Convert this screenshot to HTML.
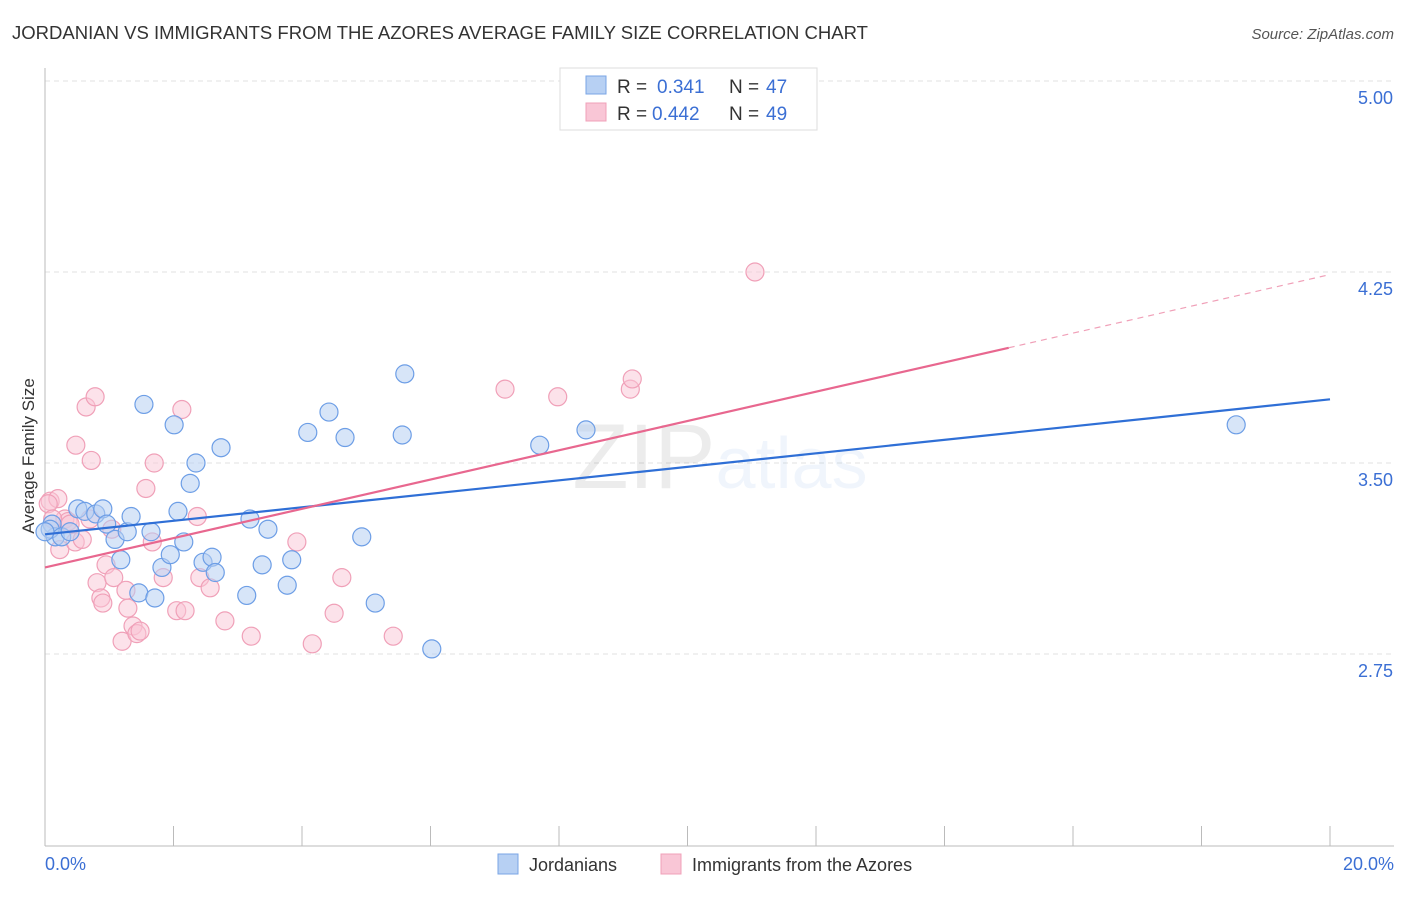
<!DOCTYPE html>
<html><head><meta charset="utf-8"><style>
body{margin:0;background:#fff;font-family:"Liberation Sans",sans-serif;}
svg text{font-family:"Liberation Sans",sans-serif;}
</style></head><body>
<svg id="chart" width="1406" height="892" xmlns="http://www.w3.org/2000/svg">
<text x="12" y="39" font-size="18" fill="#333" textLength="856" lengthAdjust="spacingAndGlyphs">JORDANIAN VS IMMIGRANTS FROM THE AZORES AVERAGE FAMILY SIZE CORRELATION CHART</text>
<text x="1394" y="39" font-size="15" fill="#555" text-anchor="end" font-style="italic">Source: ZipAtlas.com</text>
<text transform="translate(34,456) rotate(-90)" font-size="17" fill="#333" text-anchor="middle">Average Family Size</text>
<g id="grid"></g>
<g id="axes"></g>
<text x="720" y="488" font-size="92" text-anchor="middle" fill="#000" opacity="0.07" font-family="Liberation Serif">ZIP<tspan fill="#3b7ddd" opacity="1" font-family="Liberation Sans" font-size="72">atlas</tspan></text>
<g id="pts"></g>
<g id="lines"></g>
<g>
<rect x="560" y="68" width="257" height="62" fill="#fff" stroke="#ddd"/>
<rect x="586" y="76" width="20" height="18" fill="#b7d0f3" stroke="#7aa5e6"/>
<rect x="586" y="103" width="20" height="18" fill="#f9c6d6" stroke="#f0a0b8"/>
<text x="617" y="93" font-size="19" fill="#333">R =</text>
<text x="657" y="93" font-size="19" fill="#3b6fd4">0.341</text>
<text x="729" y="93" font-size="19" fill="#333">N =</text>
<text x="766" y="93" font-size="19" fill="#3b6fd4">47</text>
<text x="617" y="120" font-size="19" fill="#333">R =</text>
<text x="652" y="120" font-size="19" fill="#3b6fd4">0.442</text>
<text x="729" y="120" font-size="19" fill="#333">N =</text>
<text x="766" y="120" font-size="19" fill="#3b6fd4">49</text>
</g>
<g>
<rect x="498" y="854" width="20" height="20" fill="#b7d0f3" stroke="#7aa5e6"/>
<text x="529" y="871" font-size="18" fill="#333">Jordanians</text>
<rect x="661" y="854" width="20" height="20" fill="#f9c6d6" stroke="#f0a0b8"/>
<text x="692" y="871" font-size="18" fill="#333">Immigrants from the Azores</text>
</g>
</svg>
<script>
const yTicks=[2.75,3.5,4.25,5.0];
const yTickLabels=["2.75","3.50","4.25","5.00"];
const xTickVals=[0,2,4,6,8,10,12,14,16,18,20];
const blueX=[0.11,0.16,0.08,0.26,0.39,0.51,0.62,0.79,0.90,0.96,1.09,1.18,1.28,1.34,1.46,1.54,1.65,1.71,1.82,1.95,2.01,2.07,2.16,2.26,2.35,2.46,2.60,2.65,2.74,3.14,3.19,3.38,3.47,3.77,3.84,4.09,4.42,4.67,4.93,5.14,5.56,5.60,6.02,7.70,8.42,18.54,0.0];
const blueY=[3.26,3.21,3.24,3.21,3.23,3.32,3.31,3.30,3.32,3.26,3.20,3.12,3.23,3.29,2.99,3.73,3.23,2.97,3.09,3.14,3.65,3.31,3.19,3.42,3.50,3.11,3.13,3.07,3.56,2.98,3.28,3.10,3.24,3.02,3.12,3.62,3.70,3.60,3.21,2.95,3.61,3.85,2.77,3.57,3.63,3.65,3.23];
const pinkX=[0.08,0.20,0.05,0.23,0.31,0.36,0.47,0.48,0.58,0.64,0.72,0.78,0.81,0.87,0.90,0.95,1.04,1.07,1.26,1.29,1.20,1.37,1.43,1.48,1.57,1.67,1.70,1.84,2.05,2.13,2.18,2.37,2.41,2.57,2.80,3.21,3.92,4.16,4.50,4.62,5.42,7.16,7.98,9.11,9.14,11.05,0.12,0.39,0.70];
const pinkY=[3.35,3.36,3.34,3.16,3.28,3.27,3.19,3.57,3.20,3.72,3.51,3.76,3.03,2.97,2.95,3.10,3.24,3.05,3.00,2.93,2.80,2.86,2.83,2.84,3.40,3.19,3.50,3.05,2.92,3.71,2.92,3.29,3.05,3.01,2.88,2.82,3.19,2.79,2.91,3.05,2.82,3.79,3.76,3.79,3.83,4.25,3.28,3.26,3.28];
const blueTrend=[3.22,3.75];
const pinkTrend=[3.09,4.24];
const pinkSolidEnd=15.0;

const NS="http://www.w3.org/2000/svg";
const sx=v=>45+v*64.25;
const sy=v=>463-(v-3.5)*254.67;
function mk(tag,attrs,parent){const e=document.createElementNS(NS,tag);for(const k in attrs)e.setAttribute(k,attrs[k]);parent.appendChild(e);return e;}
const grid=document.getElementById('grid'),axes=document.getElementById('axes'),pts=document.getElementById('pts'),lines=document.getElementById('lines');
yTicks.forEach((t,i)=>{
  const l=mk('line',{x1:45,x2:1394,y1:sy(t),y2:sy(t),stroke:'#e2e2e2','stroke-dasharray':'5,4'},grid);
  
  
  const tx=mk('text',{x:1393,y:sy(t)+23,'font-size':18,fill:'#3b6fd4','text-anchor':'end'},axes);
  tx.textContent=yTickLabels[i];
  
  
});
mk('line',{x1:45,x2:45,y1:68,y2:846,stroke:'#bbb'},axes);
mk('line',{x1:45,x2:1394,y1:846,y2:846,stroke:'#bbb'},axes);
xTickVals.forEach(v=>{const t=mk('line',{x1:sx(v),x2:sx(v),y1:826,y2:846,stroke:'#bbb'},axes);
  
  });
const x0=mk('text',{x:45,y:870,'font-size':18,fill:'#3b6fd4'},axes);x0.textContent='0.0%';


const x1=mk('text',{x:1394,y:870,'font-size':18,fill:'#3b6fd4','text-anchor':'end'},axes);x1.textContent='20.0%';


pinkX.forEach((x,i)=>{const c=mk('circle',{cx:sx(x),cy:sy(pinkY[i]),r:9,fill:'#f9c6d6','fill-opacity':0.5,stroke:'#f0a0b8','stroke-width':1.2},pts);
  
  });
blueX.forEach((x,i)=>{const c=mk('circle',{cx:sx(x),cy:sy(blueY[i]),r:9,fill:'#b7d0f3','fill-opacity':0.55,stroke:'#6d9ee6','stroke-width':1.2},pts);
  
  });
const bl=mk('line',{x1:sx(0),y1:sy(blueTrend[0]),x2:sx(20),y2:sy(blueTrend[1]),stroke:'#2f6fd6','stroke-width':2.2},lines);


const pm=v=>pinkTrend[0]+(pinkTrend[1]-pinkTrend[0])*v/20;
const pl=mk('line',{x1:sx(0),y1:sy(pm(0)),x2:sx(pinkSolidEnd),y2:sy(pm(pinkSolidEnd)),stroke:'#e8678f','stroke-width':2.2},lines);


const pd=mk('line',{x1:sx(pinkSolidEnd),y1:sy(pm(pinkSolidEnd)),x2:sx(20),y2:sy(pm(20)),stroke:'#f0a0b8','stroke-width':1.2,'stroke-dasharray':'6,5'},lines);


</script>
</body></html>
